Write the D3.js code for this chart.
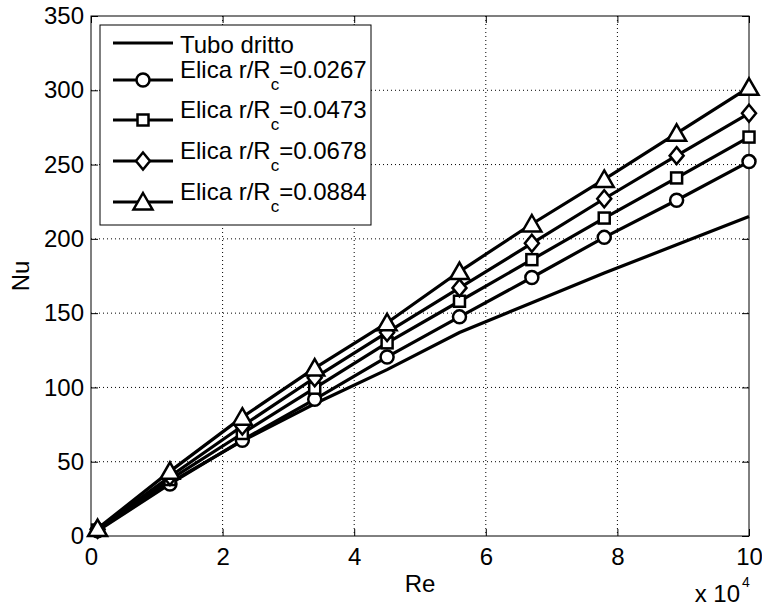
<!DOCTYPE html>
<html>
<head>
<meta charset="utf-8">
<script src="https://cdn.jsdelivr.net/npm/d3@7"></script>
<style>
  html, body { margin: 0; padding: 0; background: #fff; }
  svg { display: block; }
  text { font-family: "Liberation Sans", Arial, Helvetica, sans-serif; fill: #000; }
</style>
</head>
<body>
<svg id="chart" width="762" height="606"></svg>
<script>
// ---- data ----
const reValues = [1000, 12000, 23000, 34000, 45000, 56000, 67000, 78000, 89000, 100000];
const tuboDritto = [4, 36, 64, 89, 112, 137, 157, 177, 196, 215];
const elica0267 = [3.5, 35, 64.5, 92, 120.5, 147.5, 174, 201, 226, 252];
const elica0473 = [4, 38, 69, 99.5, 130, 158, 186, 214, 241, 268.5];
const elica0678 = [4.5, 40, 74, 106.5, 137, 167, 197, 227, 256, 284.5];
const elica0884 = [5, 43.5, 80, 113, 143.5, 178, 210, 240, 271, 302];
const seriesNames = ["0.0267", "0.0473", "0.0678", "0.0884"];
const seriesMarkers = ["circle", "square", "diamond", "triangle"];
const xTicks = [0, 20000, 40000, 60000, 80000, 100000];
const yTicks = [0, 50, 100, 150, 200, 250, 300, 350];

const elicaSeries = [elica0267, elica0473, elica0678, elica0884];

// ---- layout ----
const svg = d3.select("#chart");
const L = 91, R = 749, T = 16, B = 536;
const x = d3.scaleLinear().domain([0, 100000]).range([L, R]);
const y = d3.scaleLinear().domain([0, 350]).range([B, T]);
const fontSize = 24;

// grid
const grid = svg.append("g");
xTicks.slice(1, -1).forEach(t => {
  grid.append("line").attr("x1", x(t)).attr("x2", x(t)).attr("y1", T).attr("y2", B)
    .attr("stroke", "#000").attr("stroke-width", 1).attr("stroke-dasharray", "1,3");
});
yTicks.slice(1, -1).forEach(t => {
  grid.append("line").attr("x1", L).attr("x2", R).attr("y1", y(t)).attr("y2", y(t))
    .attr("stroke", "#000").attr("stroke-width", 1).attr("stroke-dasharray", "1,3");
});

// axes
const fmtX = d => String(d / 10000);
const xAxis = svg.append("g").attr("transform", `translate(0,${B})`)
  .call(d3.axisBottom(x).tickValues(xTicks).tickFormat(fmtX).tickSizeInner(-7).tickSizeOuter(0).tickPadding(12));
const xAxisTop = svg.append("g").attr("transform", `translate(0,${T})`)
  .call(d3.axisTop(x).tickValues(xTicks).tickFormat("").tickSizeInner(-7).tickSizeOuter(0));
const yAxis = svg.append("g").attr("transform", `translate(${L},0)`)
  .call(d3.axisLeft(y).tickValues(yTicks).tickFormat(d3.format("d")).tickSizeInner(-7).tickSizeOuter(0).tickPadding(7));
const yAxisR = svg.append("g").attr("transform", `translate(${R},0)`)
  .call(d3.axisRight(y).tickValues(yTicks).tickFormat("").tickSizeInner(-7).tickSizeOuter(0));
[xAxis, xAxisTop, yAxis, yAxisR].forEach(g => {
  g.select(".domain").remove();
  g.selectAll("line").attr("stroke", "#000").attr("stroke-width", 1);
  g.selectAll("text").attr("font-size", fontSize).attr("font-family", null).attr("fill", "#000");
});

// box
svg.append("rect").attr("x", L).attr("y", T).attr("width", R - L).attr("height", B - T)
  .attr("fill", "none").attr("stroke", "#000").attr("stroke-width", 1);

// axis labels
svg.append("text").attr("x", (L + R) / 2).attr("y", 592).attr("text-anchor", "middle")
  .attr("font-size", fontSize).text("Re");
svg.append("text").attr("transform", `translate(29,${(T + B) / 2}) rotate(-90)`)
  .attr("text-anchor", "middle").attr("font-size", fontSize).text("Nu");
svg.append("text").attr("x", 740).attr("y", 602).attr("text-anchor", "end")
  .attr("font-size", fontSize).text("x 10");
svg.append("text").attr("x", 742).attr("y", 587).attr("font-size", 14).text("4");

// markers
function drawMarker(g, type, cx, cy) {
  let el;
  if (type === "circle") {
    el = g.append("circle").attr("cx", cx).attr("cy", cy).attr("r", 6.5);
  } else if (type === "square") {
    el = g.append("rect").attr("x", cx - 5.5).attr("y", cy - 5.5).attr("width", 11).attr("height", 11);
  } else if (type === "diamond") {
    el = g.append("path").attr("d", `M${cx},${cy - 8.5}L${cx + 7},${cy}L${cx},${cy + 8.5}L${cx - 7},${cy}Z`);
  } else {
    el = g.append("path").attr("d", `M${cx},${cy - 9}L${cx + 9.5},${cy + 7.5}L${cx - 9.5},${cy + 7.5}Z`);
  }
  el.attr("fill", "#fff").attr("stroke", "#000").attr("stroke-width", 2.5).attr("stroke-linejoin", "miter");
}

const line = d3.line().x(d => x(d[0])).y(d => y(d[1]));
const plot = svg.append("g");
plot.append("path").datum(reValues.map((r, i) => [r, tuboDritto[i]]))
  .attr("d", line).attr("fill", "none").attr("stroke", "#000").attr("stroke-width", 3.2);
elicaSeries.forEach((vals, si) => {
  const g = plot.append("g");
  const pts = reValues.map((r, i) => [r, vals[i]]);
  g.append("path").datum(pts).attr("d", line).attr("fill", "none")
    .attr("stroke", "#000").attr("stroke-width", 3.2).attr("stroke-linejoin", "round");
  pts.forEach(p => drawMarker(g, seriesMarkers[si], x(p[0]), y(p[1])));
});

// legend
const lg = svg.append("g");
lg.append("rect").attr("x", 100).attr("y", 25).attr("width", 271).attr("height", 200)
  .attr("fill", "#fff").attr("stroke", "#000").attr("stroke-width", 1);
const rowY = [43, 80, 120, 161, 202];
lg.append("line").attr("x1", 113).attr("x2", 173).attr("y1", rowY[0]).attr("y2", rowY[0])
  .attr("stroke", "#000").attr("stroke-width", 3.2);
lg.append("text").attr("x", 180).attr("y", rowY[0] + 10).attr("font-size", fontSize).text("Tubo dritto");
seriesNames.forEach((nm, i) => {
  const yy = rowY[i + 1];
  lg.append("line").attr("x1", 113).attr("x2", 173).attr("y1", yy).attr("y2", yy)
    .attr("stroke", "#000").attr("stroke-width", 3.2);
  drawMarker(lg, seriesMarkers[i], 143, yy);
  const t = lg.append("text").attr("x", 180).attr("y", yy - 2).attr("font-size", fontSize);
  t.append("tspan").text("Elica r/R");
  t.append("tspan").attr("dy", 12).attr("font-size", 17).text("c");
  t.append("tspan").attr("dy", -12).text("=" + nm);
});
</script>
</body>
</html>
